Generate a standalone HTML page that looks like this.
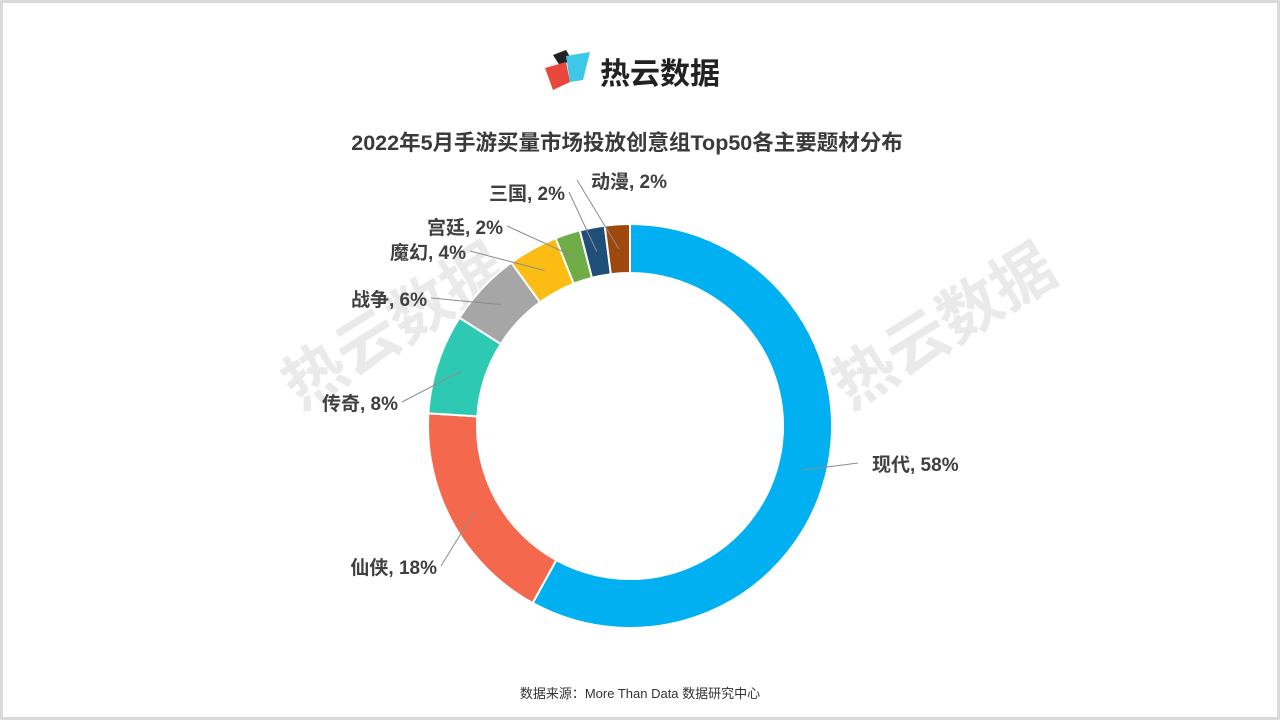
<!DOCTYPE html>
<html><head><meta charset="utf-8"><style>
body{margin:0;width:1280px;height:720px;background:#fff;overflow:hidden;font-family:"Liberation Sans","Noto Sans CJK SC",sans-serif}
#frame{position:absolute;left:0;top:0;width:1274px;height:714px;border:3px solid #d9d9d9}
</style></head><body>
<div id="frame"></div>
<svg width="1280" height="720" style="position:absolute;left:0;top:0">
<g>
<polygon points="553,55 566,50 572,60 560,66" fill="#222"/>
<polygon points="566,56 590,52 583,80 570,82" fill="#3cc8e6"/>
<polygon points="545,68 566,62 570,82 553,90" fill="#e8473b"/>
<text x="600" y="84" font-size="30" font-weight="bold" fill="#222">热云数据</text>
</g>
<text x="627" y="150" text-anchor="middle" font-size="21.5" font-weight="bold" fill="#3a3a3a">2022年5月手游买量市场投放创意组Top50各主要题材分布</text>
<g fill="#e3e3e3" font-size="62" font-weight="bold" opacity="0.75">
<text transform="translate(300,410) rotate(-32)">热云数据</text>
<text transform="translate(850,410) rotate(-32)">热云数据</text>
</g>
<g id="donut"></g>
<g id="labels"></g>
<text x="640" y="698" text-anchor="middle" font-size="13" fill="#333">数据来源：More Than Data 数据研究中心</text>
</svg>
<script>
const categories=["现代","仙侠","传奇","战争","魔幻","宫廷","三国","动漫"];
const values=[58,18,8,6,4,2,2,2];
const colors=["#00b0f0","#f4694e","#2ec9b3","#a6a6a6","#fbbd14","#70ad47","#1f4e79","#9e480e"];
const labelPos=[[872,471,"start"],[437,574,"end"],[398,410,"end"],[427,306,"end"],[466,259,"end"],[503,234,"end"],[565,200,"end"],[591,188,"start"]];
const cx=630,cy=426,R=202,r=153;
const ns="http://www.w3.org/2000/svg";
const total=values.reduce((a,b)=>a+b,0);
function pt(a,rad){return [cx+rad*Math.sin(a),cy-rad*Math.cos(a)];}
let acc=0;
const g=document.getElementById('donut'),lg=document.getElementById('labels');
values.forEach((v,i)=>{
 const a0=acc/total*2*Math.PI; acc+=v; const a1=acc/total*2*Math.PI;
 const large=(a1-a0)>Math.PI?1:0;
 const p0=pt(a0,R),p1=pt(a1,R),q1=pt(a1,r),q0=pt(a0,r);
 const p=document.createElementNS(ns,'path');
 p.setAttribute('d',`M${p0[0]},${p0[1]}A${R},${R} 0 ${large} 1 ${p1[0]},${p1[1]}L${q1[0]},${q1[1]}A${r},${r} 0 ${large} 0 ${q0[0]},${q0[1]}Z`);
 p.setAttribute('fill',colors[i]);p.setAttribute('stroke','#fff');p.setAttribute('stroke-width','2');
 
 
 g.appendChild(p);
 const am=(a0+a1)/2,m=pt(am,(R+r)/2);
 const lp=labelPos[i];
 const ln=document.createElementNS(ns,'line');
 const lx=lp[2]==="start"?lp[0]-14:lp[0]+4;
 ln.setAttribute('x1',m[0]);ln.setAttribute('y1',m[1]);ln.setAttribute('x2',lx);ln.setAttribute('y2',lp[1]-8);
 ln.setAttribute('stroke','#8c8c8c');ln.setAttribute('stroke-width','1');
 
 
 lg.appendChild(ln);
 const t=document.createElementNS(ns,'text');
 t.setAttribute('x',lp[0]);t.setAttribute('y',lp[1]);t.setAttribute('text-anchor',lp[2]);
 t.setAttribute('font-size','19');t.setAttribute('font-weight','bold');t.setAttribute('fill','#404040');
 t.textContent=categories[i]+", "+v+"%";
 
 
 lg.appendChild(t);
});
</script>
</body></html>
